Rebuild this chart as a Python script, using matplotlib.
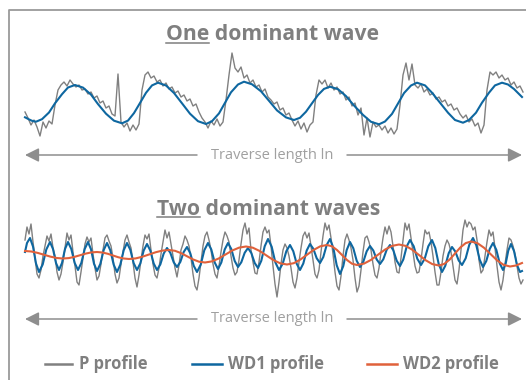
import numpy as np
import matplotlib
matplotlib.use("Agg")
import matplotlib.pyplot as plt
from matplotlib.lines import Line2D

# ---------------- data (traverse position, profile height) ----------------
# Panel 1 : one dominant wave
p1_profile = [18,12,5,10,3,-6,8,2,9,6, 25,40,45,48,44,50,46,43,45,40,
              41,36,38,32,34,27,29,22,24,16, 14,56,8,3,7,-1,5,0,6,40,
              55,58,52,54,48,50,44,47,41,43, 37,39,33,35,29,31,24,26,18,12,
              8,2,9,5,11,4,8,30,55,77, 62,58,63,52,55,47,50,43,45,38,
              41,33,30,26,28,20,22,15,17,10, 4,9,1,7,-2,5,8,35,50,46,
              50,42,47,40,43,36,38,30,33,24, 27,15,22,-5,12,-7,8,3,5,0,
              4,-3,2,-4,1,25,55,67,50,66, 45,42,46,38,41,35,37,31,33,28,
              30,24,26,20,22,16,12,15,8,11, 4,7,-3,5,40,58,55,58,52,55,
              50,52,45,48,42,44,38]

p1_wd1_x = [25,29,32,36, 42,49,55,62,68,75, 83,91,98,106,114,122,
            128,134,140,146,152,158, 166,174,182,190,198,206,
            212,219,225,231,238,244, 252,261,269,277,286,294,
            300,306,312,318,324,330, 338,346,354,363,371,379,
            385,392,398,404,411,417, 425,432,440,448,455,463,
            469,476,482,489,495,502, 508,514,522]
p1_wd1 = [12.7,10.6,9.2,8.3, 10.8,17.5,26.7,35.8,42.5,45, 42.4,35.4,25.9,16.3,9.3,6.7,
          9.4,16.9,27.0,37.2,44.6,47.3, 44.5,37.0,26.7,16.3,8.8,6.0,
          8.8,16.6,27.2,37.7,45.5,48.3, 45.7,38.7,29.2,19.6,12.6,10.0,
          12.2,18.3,26.7,35.0,41.1,43.3, 40.8,33.9,24.5,15.1,8.2,5.7,
          8.5,16.1,26.5,36.9,44.5,47.3, 44.6,37.3,27.3,17.3,10.0,7.3,
          10.0,17.3,27.3,37.3,44.6,47.3, 45.5,41.0,33.0]

# Panel 2 : two dominant waves
p2_profile = [20,33,26,36,18,2,-14,-18,-10,4, 14,24,19,26,12,4,-12,-20,-14,-2,
              12,27,20,25,8,-6,-22,-25,-12,2, 16,23,18,22,6,-8,-20,-16,-4,10,
              22,25,19,14,2,-14,-23,-18,-4,8, 20,25,18,12,-2,-18,-27,-15,0,14,
              25,21,26,10,-4,-15,-18,-8,6,18, 30,22,28,16,4,-8,-17,-5,10,16,
              24,20,14,2,-14,-26,-30,-18,-2,14, 24,28,20,10,-4,-14,-18,-6,8,20,
              28,24,18,4,-8,-15,-12,0,16,30, 37,26,32,10,-2,-13,-14,-2,14,28,
              33,27,30,14,-6,-24,-37,-22,-4,10, 16,12,4,-8,-22,-28,-18,-2,12,24,
              28,22,27,14,0,-14,-18,-10,8,24, 37,30,35,22,6,-12,-26,-30,-16,4,
              20,26,20,12,0,-18,-32,-26,-10,8, 22,24,18,10,-4,-15,-18,-8,8,22,
              33,26,34,28,14,-2,-12,-13,2,20, 37,30,36,22,8,-6,-13,-12,0,16,
              30,26,28,18,4,-12,-25,-25,-12,4, 14,20,16,8,-6,-20,-24,-10,10,30,
              40,33,38,36,30,33,20,0,-13,-10, 4,18,30,24,28,12,-6,-22,-30,-20,
              -4,10,22,20,14,6,-6,-18,-24,-20]

p2_wd1_x = [25,27,30, 33,36,39, 42.7,46.3,50, 53,56,59, 62,65,68, 71.3,74.7,78,
            81.3,84.7,88, 91,94,97, 100.3,103.7,107, 110.3,113.7,117, 120.3,123.7,127,
            130.3,133.7,137, 140.3,143.7,147, 150.3,153.7,157, 160.3,163.7,167,
            170.3,173.7,177, 180.3,183.7,187, 190.3,193.7,197, 200.7,204.3,208,
            211.3,214.7,218, 221.3,224.7,228, 231.3,234.7,238, 241.3,244.7,248,
            251.3,254.7,258, 261.3,264.7,268, 271.7,275.3,279, 282.7,286.3,290,
            293.3,296.7,300, 303.3,306.7,310, 313.3,316.7,320, 323.3,326.7,330,
            333.3,336.7,340, 343.3,346.7,350, 353.3,356.7,360, 363.3,366.7,370,
            373.3,376.7,380, 383.3,386.7,390, 393.3,396.7,400, 403.3,406.7,410,
            413.7,417.3,421, 424.7,428.3,432, 435.3,438.7,442, 445.3,448.7,452,
            455.3,458.7,462, 465.7,469.3,473, 476.3,479.7,483, 486.3,489.7,493,
            496.3,499.7,503, 505.7,508.3,511, 514,517,520, 522]
p2_wd1 = [8,17,22, 13.5,-3.5,-12, -4.5,10.5,18, 11,-3,-10, -3,11,18, 11,-3,-10,
          -3,11,18, 10.75,-3.75,-11, -4,10,17, 9.75,-4.75,-12, -4.75,9.75,17,
          10.25,-3.25,-10, -3.5,9.5,16, 9.5,-3.5,-10, -4.5,6.5,12,
          7.25,-2.25,-7, -2,8,13, 6.75,-5.75,-12, -4.75,9.75,17,
          10.5,-2.5,-9, -2.5,10.5,17, 11,-1,-7, -2.25,7.25,12,
          7,-3,-8, -0.75,13.75,21, 13.25,-2.25,-10, -3.75,8.75,15,
          8.75,-3.75,-10, -3.5,9.5,16, 11.25,1.75,-3, 3,15,21,
          12.25,-5.25,-14, -6,10,18, 11.75,-0.75,-7, -1.75,8.75,14,
          9.5,0.5,-4, 0.75,10.25,15, 9.75,-0.75,-6, 0.5,13.5,20,
          13.75,1.25,-5, 1.25,13.75,20, 12,-4,-12, -5.75,6.75,13,
          8.5,-0.5,-5, 1.75,15.25,22, 14.75,0.25,-7, -1,11,17,
          10.25,-3.25,-10, -3.5,9.5,16, 9,-5,-12, -11]

p2_wd2_x = [25,31.3,37.7,44,50.3,56.7,63, 68.7,74.3,80,85.7,91.3,97,
            102.3,107.7,113,118.3,123.7,129, 135.7,142.3,149,155.7,162.3,169,
            175,181,187,193,199,205, 211.8,218.7,225.5,232.3,239.2,246,
            252.8,259.7,266.5,273.3,280.2,287, 293.7,300.3,307,313.7,320.3,327,
            332,337,342,347,352,357, 364,371,378,385,392,399,
            405.7,412.3,419,425.7,432.3,439, 444.3,449.7,455,460.3,465.7,471,
            477.5,484,490.5,497,503.5,510, 516,522]
p2_wd2 = [9,8.5,7.1,5.25,3.4,2.0,1.5, 1.9,3.1,4.75,6.4,7.6,8,
          7.5,6.25,4.5,2.75,1.5,1, 1.6,3.25,5.5,7.75,9.4,10,
          9.2,6.9,3.75,0.6,-1.7,-2.5, -1.4,1.5,5.5,9.5,12.4,13.5,
          12.3,9,4.5,0,-3.3,-4.5, -3.2,0.4,5.25,10.1,13.7,15,
          13.7,10,5,0,-3.7,-5, -3.6,0.1,5.25,10.4,14.1,15.5,
          14.1,10.25,5,-0.25,-4.1,-5.5, -3.9,0.5,6.5,12.5,16.9,18.5,
          16.8,12.25,6,-0.25,-4.8,-6.5, -5.5,-3]

titles = [("One", " dominant wave"), ("Two", " dominant waves")]
axis_label = "Traverse length ln"
legend_labels = ["P profile", "WD1 profile", "WD2 profile"]

assert len(p1_wd1_x) == len(p1_wd1)
assert len(p2_wd1_x) == len(p2_wd1)
assert len(p2_wd2_x) == len(p2_wd2)

# ---------------- style ----------------
W, H = 526, 380
C_GRAY = "#808080"
C_BLUE = "#0e67a0"
C_ORANGE = "#e0613b"
C_TEXT = "#7f7f7f"
C_LIGHT = "#a0a0a0"
C_ARROW = "#8e8e8e"
FONT = ["Open Sans", "DejaVu Sans"]
plt.rcParams["font.family"] = FONT

fig = plt.figure(figsize=(W / 100, H / 100), dpi=100)
fig.patch.set_facecolor("white")

def fx(px):
    return px / W

def fy(py):
    return 1 - py / H

X0, X1 = 25, 523

ax1 = fig.add_axes([fx(X0), fy(140), fx(X1) - fx(X0), (140 - 45) / H])
ax1.set_xlim(X0, X1)
ax1.set_ylim(-10, 85)
ax2 = fig.add_axes([fx(X0), fy(302), fx(X1) - fx(X0), (302 - 212) / H])
ax2.set_xlim(X0, X1)
ax2.set_ylim(-42, 48)
for ax in (ax1, ax2):
    ax.axis("off")

x_p1 = np.linspace(X0, X1, len(p1_profile))
ax1.plot(x_p1, p1_profile, color=C_GRAY, lw=1.0, clip_on=False, zorder=1)
ax1.plot(p1_wd1_x, p1_wd1, color=C_BLUE, lw=1.5, clip_on=False, zorder=3,
         solid_joinstyle="round")

x_p2 = np.linspace(X0, X1, len(p2_profile))
ax2.plot(x_p2, p2_profile, color=C_GRAY, lw=1.0, clip_on=False, zorder=1)
ax2.plot(p2_wd1_x, p2_wd1, color=C_BLUE, lw=1.5, clip_on=False, zorder=3,
         solid_joinstyle="round")
ax2.plot(p2_wd2_x, p2_wd2, color=C_ORANGE, lw=1.5, clip_on=False, zorder=4,
         solid_joinstyle="round")

# ---------------- frame ----------------
fig.add_artist(Line2D([fx(9.5), fx(9.5), fx(W)], [fy(H), fy(9.5), fy(9.5)],
                      color="#9a9a9a", lw=1.3, transform=fig.transFigure))

# ---------------- titles with underline ----------------
renderer = fig.canvas.get_renderer()
TSIZE = 15.2

def title(xc, yc, under, rest, uy):
    t = fig.text(fx(xc), fy(yc), under + rest, ha="center", va="center",
                 fontsize=TSIZE, fontweight="bold", color=C_TEXT)
    bb = t.get_window_extent(renderer)
    tmp = fig.text(0, 0, under, fontsize=TSIZE, fontweight="bold")
    w = tmp.get_window_extent(renderer).width
    tmp.remove()
    x0 = bb.x0 / W
    fig.add_artist(Line2D([x0, x0 + w / W], [fy(uy), fy(uy)], color=C_TEXT,
                          lw=1.1, transform=fig.transFigure))

title(272, 35, titles[0][0], titles[0][1], 43)
title(268.5, 209, titles[1][0], titles[1][1], 217.5)

# ---------------- traverse arrows ----------------
def traverse(y):
    fig.text(fx(272), fy(y), axis_label, ha="center", va="center",
             fontsize=10.5, color=C_LIGHT)
    for a, b in ((197, 25), (347, 522)):
        fig.add_artist(matplotlib.patches.FancyArrowPatch(
            (fx(a), fy(y)), (fx(b), fy(y)), transform=fig.transFigure,
            arrowstyle="-|>,head_length=6,head_width=3", mutation_scale=1.4,
            color=C_ARROW, lw=1.1, shrinkA=0, shrinkB=0))

traverse(155)
traverse(319)

# ---------------- legend ----------------
leg_items = [(45, 72, 79, C_GRAY), (192, 222, 228, C_BLUE), (367, 397, 403, C_ORANGE)]
for (l0, l1, tx, col), lab in zip(leg_items, legend_labels):
    fig.add_artist(Line2D([fx(l0), fx(l1)], [fy(364), fy(364)], color=col,
                          lw=1.8, transform=fig.transFigure))
    fig.text(fx(tx), fy(364), lab, ha="left", va="center", fontsize=11.9,
             fontweight="bold", color=C_TEXT)

fig.savefig("out.png", dpi=100)
